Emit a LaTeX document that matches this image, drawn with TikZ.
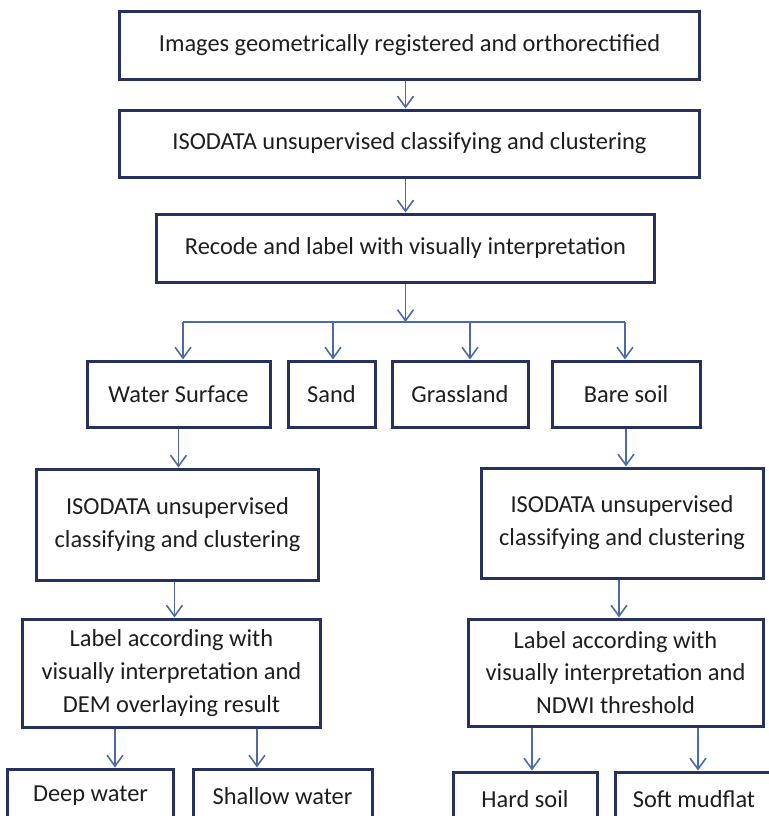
\documentclass[tikz,border=0pt]{standalone}
\usepackage{fontspec}
\setmainfont{Carlito}
\usetikzlibrary{arrows.meta, positioning, calc}
\definecolor{boxblue}{HTML}{26315F}
\definecolor{arrblue}{HTML}{4D6AA6}
\definecolor{txtgray}{HTML}{1E1E1E}

\begin{document}
\begin{tikzpicture}[x=1bp, y=-1bp,
		box/.style={draw=boxblue, line width=3bp, inner sep=0pt, align=center, text=txtgray, font=\fontsize{24.5}{33}\selectfont},
		arr/.style={draw=arrblue, line width=1.6bp, -{Straight Barb[length=11bp, width=16bp, line width=1.6bp]}},
		link/.style={draw=arrblue, line width=1.6bp}]
		\clip (0,0) rectangle (769,816);
		\node[box, minimum width=579bp, minimum height=67bp] (img) at (409.5,45.5) {Images geometrically registered and orthorectified};
		\node[box, minimum width=579bp, minimum height=67bp] (iso) at (409.5,143.5) {ISODATA unsupervised classifying and clustering};
		\node[box, minimum width=497bp, minimum height=68bp] (recode) at (405.5,248) {Recode and label with visually interpretation};
		\coordinate (split) at (405.5,322);

		\node[box, minimum width=183bp, minimum height=66bp] (water) at (178.5,394) {Water Surface};
		\node[box, minimum width=87bp, minimum height=66bp] (sand) at (331.5,394) {Sand};
		\node[box, minimum width=136bp, minimum height=66bp] (grass) at (460,394) {Grassland};
		\node[box, minimum width=148bp, minimum height=66bp] (bare) at (626,394) {Bare soil};

		\node[box, minimum width=281bp, minimum height=111bp] (isoL) at (177.5,524.5) {ISODATA unsupervised\\classifying and clustering};
		\node[box, minimum width=282bp, minimum height=110bp] (isoR) at (622,523) {ISODATA unsupervised\\classifying and clustering};
		\node[box, minimum width=297bp, minimum height=108bp] (labL) at (171.5,673) {Label according with\\visually interpretation and\\DEM overlaying result};
		\node[box, minimum width=295bp, minimum height=107bp] (labR) at (615.5,672.5) {Label according with\\visually interpretation and\\NDWI threshold};

		\node[box, minimum width=165bp, minimum height=54bp] (deep) at (90.5,796) {Deep water};
		\node[box, minimum width=179bp, minimum height=54bp] (shallow) at (282.5,796) {Shallow water};
		\node[box, minimum width=144bp, minimum height=54bp] (hard) at (525,799) {Hard soil};
		\node[box, minimum width=158bp, minimum height=54bp] (soft) at (694,799) {Soft mudflat};

		\draw[arr] (img.south -| recode) -- (iso.north -| recode);
		\draw[arr] (iso.south -| recode) -- (recode.north);
		\draw[arr] (recode.south) -- (split);
		\draw[link] ([xshift=4.5bp]water.north |- split) -- ([xshift=-1bp]bare.north |- split);
		\draw[arr] ([xshift=4.5bp]water.north |- split) -- ([xshift=4.5bp]water.north);
		\draw[arr] ([xshift=1.5bp]sand.north |- split) -- ([xshift=1.5bp]sand.north);
		\draw[arr] ([xshift=10bp]grass.north |- split) -- ([xshift=10bp]grass.north);
		\draw[arr] ([xshift=-1bp]bare.north |- split) -- ([xshift=-1bp]bare.north);

		\draw[arr] (water.south) -- (water.south |- isoL.north);
		\draw[arr] (bare.south) -- (bare.south |- isoR.north);
		\draw[arr] ([xshift=-3bp]isoL.south) -- ([xshift=-3bp]isoL.south |- labL.north);
		\draw[arr] ([xshift=-3bp]isoR.south) -- ([xshift=-3bp]isoR.south |- labR.north);

		\draw[arr] ([xshift=24.5bp]deep.north |- labL.south) -- ([xshift=24.5bp]deep.north);
		\draw[arr] ([xshift=-25.5bp]shallow.north |- labL.south) -- ([xshift=-25.5bp]shallow.north);
		\draw[arr] ([xshift=7bp]hard.north |- labR.south) -- ([xshift=7bp]hard.north);
		\draw[arr] ([xshift=4bp]soft.north |- labR.south) -- ([xshift=4bp]soft.north);
	\end{tikzpicture}
\end{document}
